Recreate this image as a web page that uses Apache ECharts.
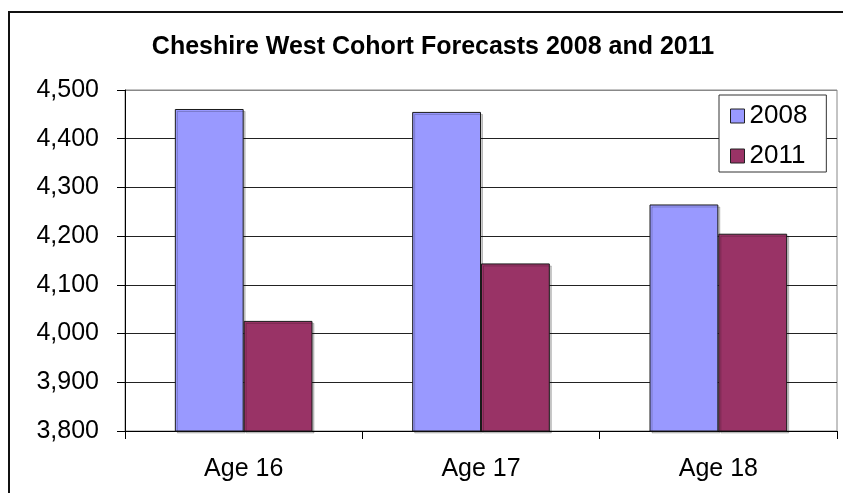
<!DOCTYPE html>
<html>
<head>
<meta charset="utf-8">
<script src="https://cdn.jsdelivr.net/npm/echarts@6/dist/echarts.min.js"></script>
<style>
  html, body { margin: 0; padding: 0; background: #fff; }
  #chart { width: 843px; height: 493px; }
</style>
</head>
<body>
<div id="chart"></div>
<script>
var titleText = 'Cheshire West Cohort Forecasts 2008 and 2011';
var categories = ['Age 16', 'Age 17', 'Age 18'];
var seriesNames = ['2008', '2011'];
var values2008 = [4461, 4455, 4265];
var values2011 = [4026, 4144, 4205];
var yMin = 3800, yMax = 4500, yStep = 100;

var FONT = 'Liberation Sans';
var chart = echarts.init(document.getElementById('chart'), null, { renderer: 'canvas' });

var barStyle = function (color) {
  return {
    color: color,
    borderColor: '#1a1a1a',
    borderWidth: 1,
    shadowColor: 'rgba(0,0,0,0.2)',
    shadowOffsetX: 2,
    shadowOffsetY: 2,
    shadowBlur: 0
  };
};

chart.setOption({
  animation: false,
  backgroundColor: '#ffffff',
  title: {
    text: titleText,
    left: 428,
    textAlign: 'center',
    top: 30,
    textStyle: { fontFamily: FONT, fontWeight: 'bold', fontSize: 25, color: '#000' }
  },
  graphic: [{
    type: 'rect',
    shape: { x: 9, y: 12, width: 900, height: 600 },
    style: { fill: 'none', stroke: '#111', lineWidth: 2 },
    silent: true,
    z: 100
  }],
  legend: {
    data: seriesNames,
    orient: 'vertical',
    icon: 'rect',
    left: 719,
    top: 95,
    padding: [8, 19, 3, 11],
    itemGap: 14,
    itemWidth: 14,
    itemHeight: 14,
    backgroundColor: '#fff',
    borderColor: '#333',
    borderWidth: 1,
    textStyle: { fontFamily: FONT, fontSize: 26, color: '#000', lineHeight: 24 },
    itemStyle: { borderColor: '#222', borderWidth: 1, shadowBlur: 0, shadowOffsetX: 0, shadowOffsetY: 0, shadowColor: 'transparent' },
    z: 10
  },
  grid: {
    left: 125, right: 6, top: 90, bottom: 62,
    show: true, borderColor: '#888', borderWidth: 1, backgroundColor: '#fff'
  },
  xAxis: {
    type: 'category',
    data: categories,
    axisLine: { show: true, lineStyle: { color: '#000', width: 1 } },
    axisTick: { show: true, length: 8, alignWithLabel: false, lineStyle: { color: '#000' } },
    axisLabel: { fontFamily: FONT, fontSize: 25, color: '#000', margin: 26 },
    splitLine: { show: false }
  },
  yAxis: {
    type: 'value',
    min: yMin, max: yMax, interval: yStep,
    axisLine: { show: true, lineStyle: { color: '#000', width: 1 } },
    axisTick: { show: true, length: 8, lineStyle: { color: '#000' } },
    axisLabel: {
      fontFamily: FONT, fontSize: 25, color: '#000', margin: 26,
      formatter: function (v) { return v.toLocaleString('en-US'); }
    },
    splitLine: {
      show: true,
      lineStyle: { color: ['#222', '#222', '#222', '#222', '#222', '#222', '#222', '#888'], width: 1 }
    }
  },
  series: [
    { name: seriesNames[0], type: 'bar', data: values2008, barGap: '0%', barCategoryGap: '42%', itemStyle: barStyle('#9999FF') },
    { name: seriesNames[1], type: 'bar', data: values2011, barGap: '0%', barCategoryGap: '42%', itemStyle: barStyle('#993366') }
  ]
});
</script>
</body>
</html>
